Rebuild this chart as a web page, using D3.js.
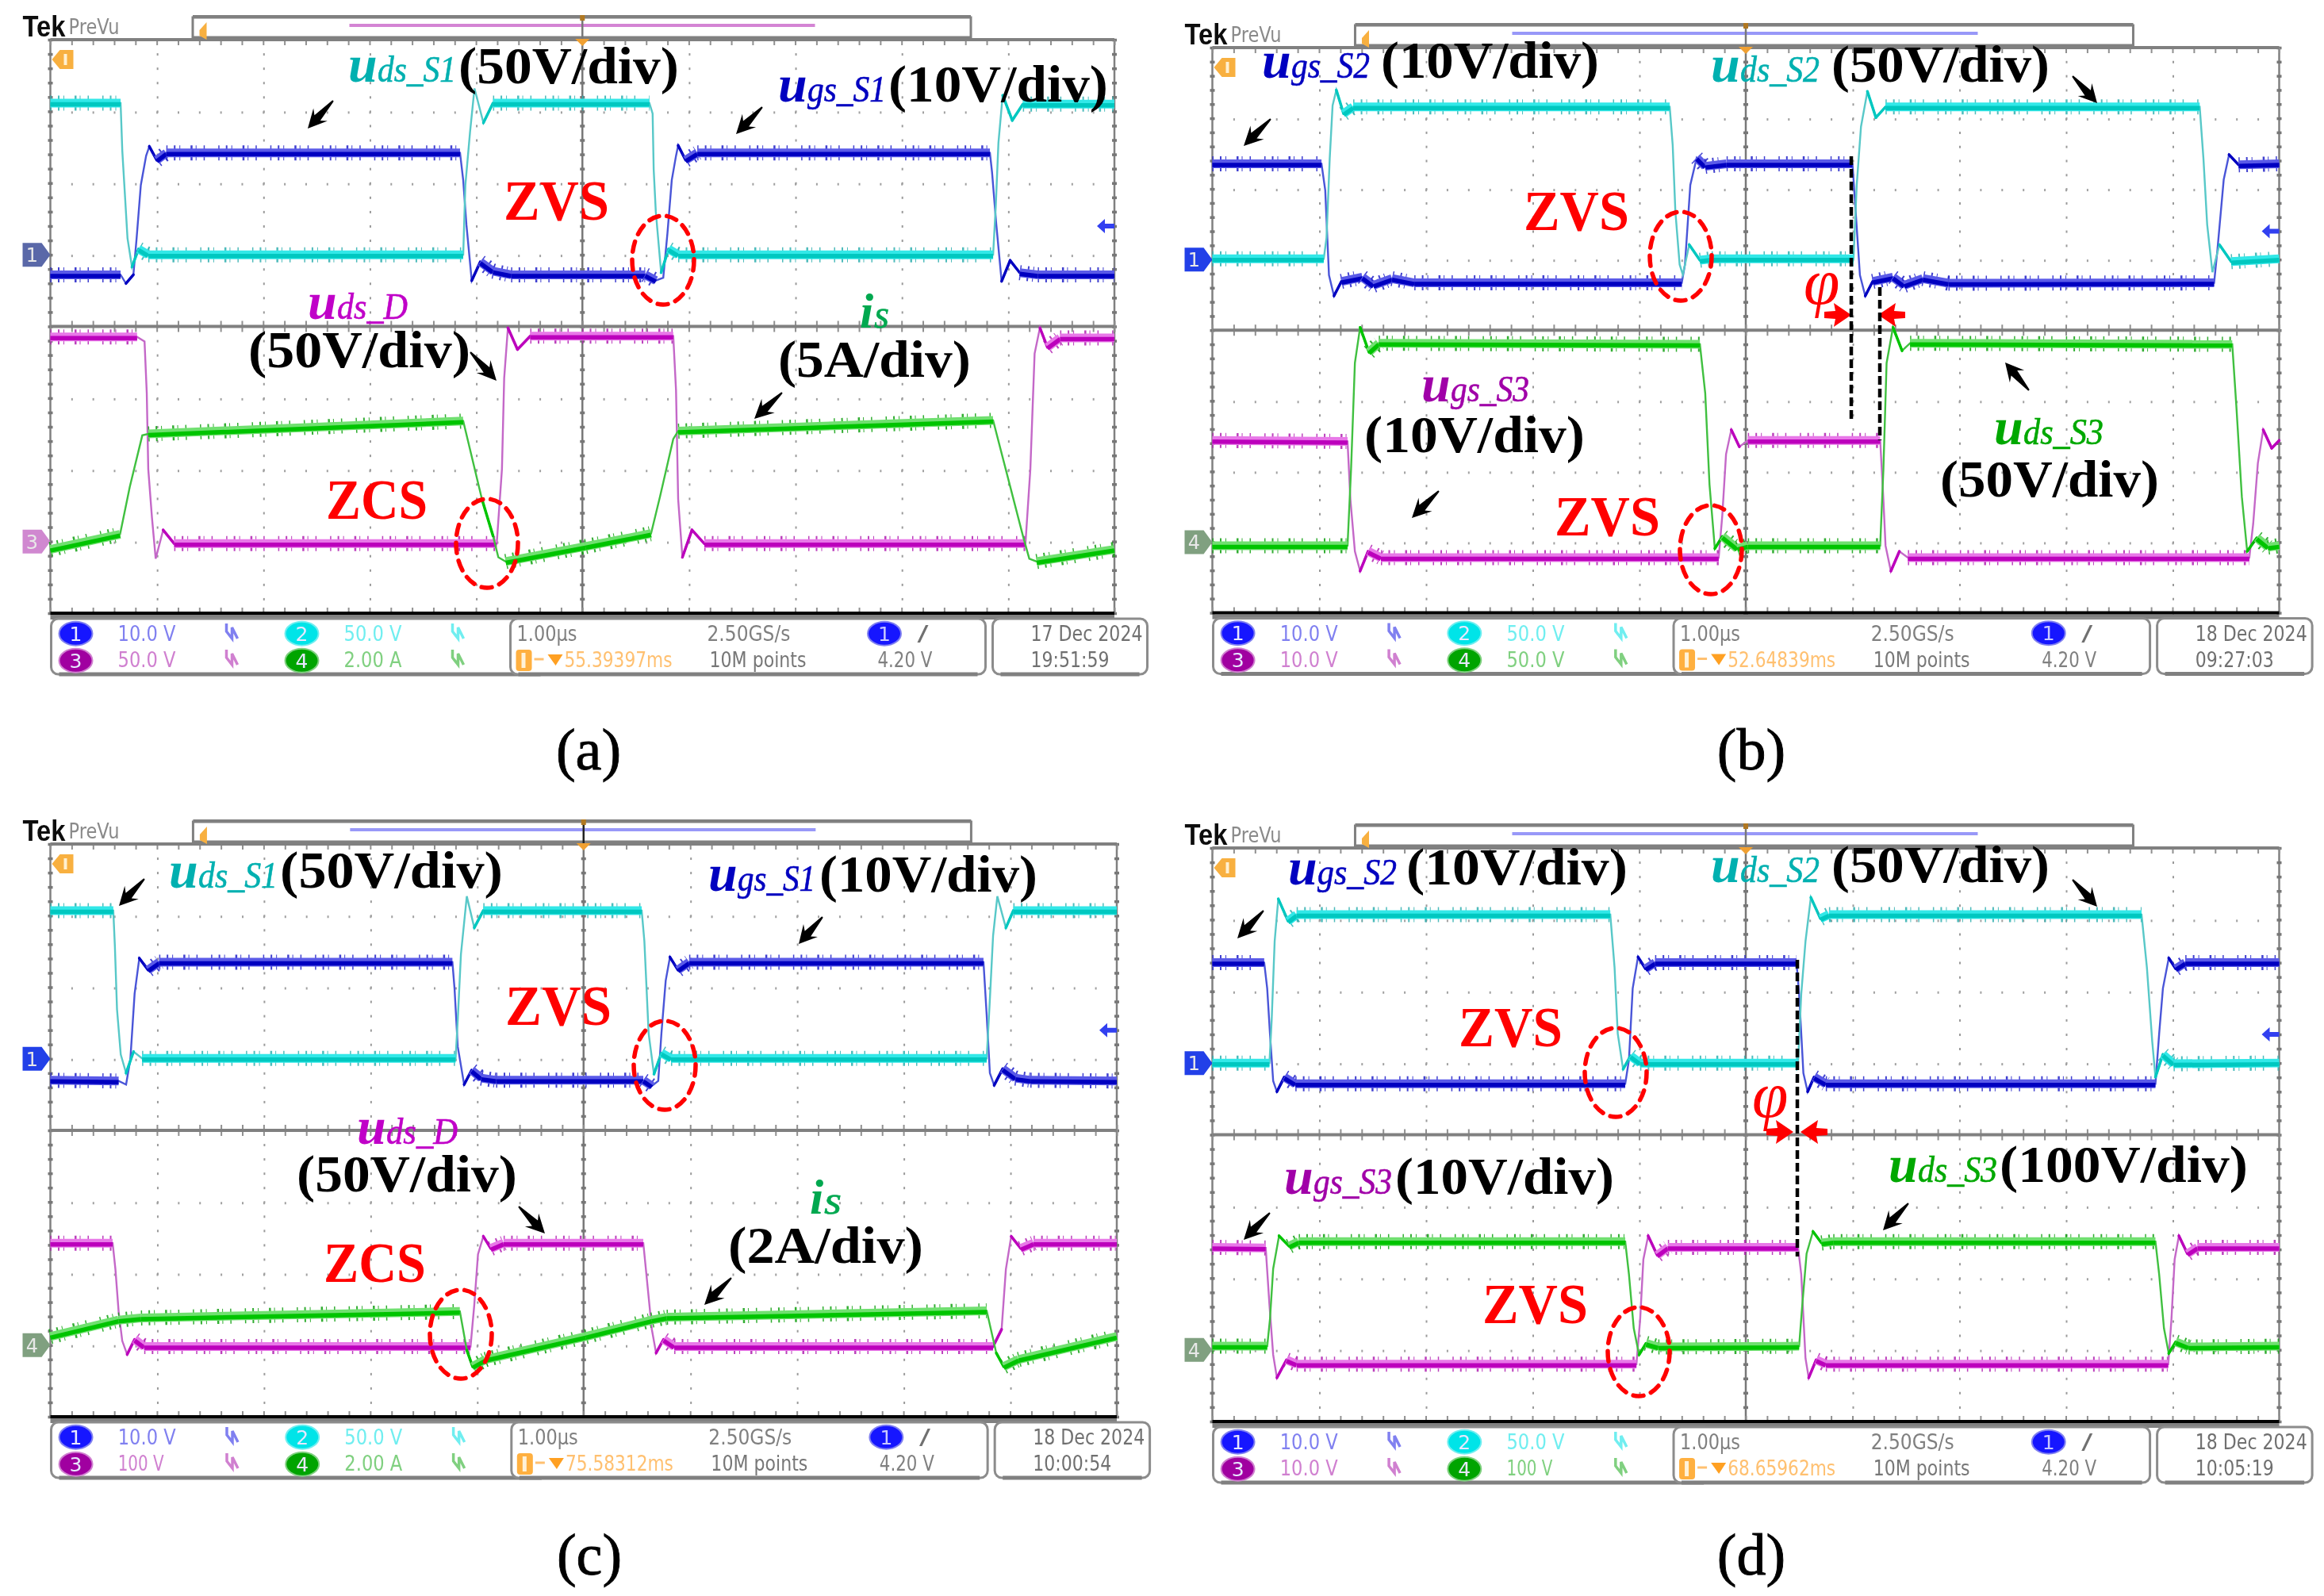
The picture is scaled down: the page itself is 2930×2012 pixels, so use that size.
<!DOCTYPE html>
<html><head><meta charset="utf-8">
<style>html,body{margin:0;padding:0;background:#fff}svg{display:block}</style>
<script src="https://cdnjs.cloudflare.com/ajax/libs/d3/7.8.5/d3.min.js"></script>
</head><body><div id="chart"></div>
<script>
// ---- waveform data: [time in divisions, level in divisions from the top of the screen]
const aUgsS1=[[0,3.28],[.66,3.28],[.71,3.4],[.78,3.28],[.81,2.78],[.85,2.03],[.9,1.62],[.93,1.49],[1,1.68],[1.09,1.58],[3.85,1.58],[3.88,1.96],[3.91,2.58],[3.96,3.36],[4.04,3.1],[4.16,3.23],[4.33,3.28],[5.59,3.28],[5.69,3.36],[5.76,3.32],[5.8,2.69],[5.84,1.96],[5.88,1.62],[5.9,1.476],[5.97,1.68],[6.08,1.58],[8.83,1.58],[8.85,1.85],[8.89,2.58],[8.94,3.37],[9.02,3.08],[9.11,3.25],[9.28,3.28],[10,3.28]];
const aUdsS1=[[0,.886],[.66,.886],[.676,1.55],[.725,2.77],[.767,3.17],[.829,2.92],[.92,3],[3.88,3],[3.9,2.03],[3.944,1.29],[3.986,.68],[4.07,1.16],[4.16,.886],[5.63,.886],[5.66,1.03],[5.67,1.81],[5.69,2.4],[5.74,3.25],[5.81,2.92],[5.9,3],[8.86,3],[8.885,2.32],[8.91,1.44],[8.95,.775],[9.04,1.125],[9.14,.9],[10,.9]];
const aUdsD=[[0,4.147],[.815,4.147],[.885,4.21],[.906,4.93],[.92,5.99],[.955,6.67],[.99,7.24],[1.06,6.84],[1.164,7.03],[4.195,7.03],[4.244,5.99],[4.265,4.72],[4.3,4.02],[4.39,4.32],[4.51,4.135],[5.854,4.135],[5.88,4.89],[5.9,6.41],[5.94,7.22],[6.03,6.84],[6.146,7.03],[9.164,7.03],[9.21,5.99],[9.25,4.38],[9.3,4.02],[9.37,4.29],[9.49,4.16],[10,4.16]];
const aIs=[[0,7.11],[.655,6.9],[.746,6.24],[.864,5.52],[.92,5.5],[3.88,5.32],[4.056,6.41],[4.16,6.92],[4.21,7.22],[4.28,7.28],[5.03,7.07],[5.645,6.89],[5.73,6.37],[5.854,5.57],[5.9,5.46],[8.86,5.31],[9.14,6.92],[9.2,7.24],[9.27,7.28],[10,7.11]];

const bUgsS2=[[0,1.645],[1.023,1.645],[1.058,2.02],[1.093,3.22],[1.14,3.515],[1.21,3.31],[1.406,3.25],[1.51,3.365],[1.684,3.27],[1.893,3.33],[4.4,3.33],[4.43,3.07],[4.48,1.945],[4.54,1.56],[4.62,1.68],[4.82,1.645],[6,1.645],[6.03,2.32],[6.07,3.22],[6.12,3.515],[6.19,3.31],[6.38,3.25],[6.485,3.365],[6.66,3.27],[6.9,3.335],[9.39,3.33],[9.42,2.88],[9.48,1.87],[9.53,1.515],[9.62,1.66],[10,1.645]];
const bUdsS2=[[0,2.99],[1.044,2.99],[1.07,2.69],[1.1,1.57],[1.127,.82],[1.162,.6],[1.23,.935],[1.32,.84],[4.287,.84],[4.315,1.38],[4.34,2.32],[4.38,3.07],[4.41,3.215],[4.47,2.79],[4.57,3.01],[4.68,2.99],[6.01,2.99],[6.04,1.945],[6.08,1.12],[6.14,.62],[6.22,.99],[6.31,.84],[9.255,.84],[9.29,1.57],[9.325,2.505],[9.374,3.18],[9.44,2.79],[9.55,3.03],[10,2.99]];
const bUgsS3=[[0,5.56],[1.267,5.575],[1.294,6.4],[1.336,7.13],[1.385,7.41],[1.46,7.13],[1.58,7.22],[4.746,7.22],[4.78,6.62],[4.815,5.755],[4.864,5.41],[4.94,5.65],[5.02,5.56],[6.26,5.56],[6.29,6.4],[6.31,7.05],[6.36,7.41],[6.44,7.13],[6.52,7.22],[9.72,7.22],[9.756,6.745],[9.8,5.885],[9.85,5.41],[9.93,5.67],[10,5.56]];
const bUdsS3=[[0,7.05],[1.267,7.05],[1.3,5.97],[1.336,4.465],[1.385,3.96],[1.468,4.31],[1.56,4.185],[4.57,4.2],[4.62,4.895],[4.66,6.185],[4.71,7.09],[4.78,6.92],[4.92,7.09],[5.02,7.05],[6.26,7.05],[6.29,5.97],[6.32,4.465],[6.38,3.96],[6.465,4.29],[6.54,4.185],[9.56,4.2],[9.6,5.11],[9.65,6.36],[9.7,7.13],[9.79,6.94],[9.895,7.07],[10,7.05]];

const cUgsS1=[[0,3.3],[.64,3.31],[.71,3.36],[.75,3.01],[.79,2.09],[.834,1.595],[.917,1.76],[1.02,1.65],[3.77,1.65],[3.79,2.02],[3.82,2.83],[3.88,3.36],[3.95,3.16],[4.04,3.27],[4.18,3.3],[5.56,3.3],[5.64,3.38],[5.7,3.31],[5.73,2.645],[5.77,1.91],[5.81,1.58],[5.885,1.76],[5.99,1.65],[8.75,1.65],[8.78,2.39],[8.81,3.2],[8.85,3.37],[8.93,3.14],[9.05,3.27],[9.19,3.3],[10,3.31]];
const cUdsS1=[[0,.93],[.59,.93],[.605,1.43],[.625,2.31],[.66,2.94],[.71,3.2],[.78,2.9],[.86,2.995],[3.8,2.995],[3.82,2.46],[3.85,1.54],[3.905,.73],[3.975,1.17],[4.06,.93],[5.545,.93],[5.57,1.355],[5.61,2.645],[5.66,3.215],[5.73,2.92],[5.82,2.995],[8.78,2.995],[8.81,2.165],[8.84,1.28],[8.88,.73],[8.96,1.17],[9.03,.93],[10,.93]];
const cUdsD=[[0,5.575],[.584,5.575],[.61,5.94],[.64,6.53],[.674,6.94],[.72,7.13],[.79,6.92],[.88,7.02],[3.94,7.02],[3.975,6.44],[4.01,5.73],[4.06,5.48],[4.13,5.65],[4.25,5.575],[5.56,5.575],[5.59,6.025],[5.64,6.78],[5.68,7.11],[5.75,6.92],[5.85,7.02],[8.84,7.02],[8.92,6.78],[8.96,5.94],[9.01,5.48],[9.1,5.65],[9.22,5.575],[10,5.575]];
const cIs=[[0,6.88],[.64,6.65],[.85,6.62],[3.84,6.53],[3.905,7.07],[3.96,7.3],[4.08,7.2],[5.02,6.88],[5.64,6.65],[5.78,6.61],[8.78,6.52],[8.87,7.11],[8.94,7.3],[9.08,7.2],[10,6.88]];

const dUgsS2=[[0,1.6],[.486,1.6],[.514,1.96],[.54,2.59],[.57,3.25],[.605,3.4],[.674,3.196],[.778,3.29],[3.87,3.29],[3.905,2.956],[3.94,1.96],[3.99,1.52],[4.06,1.685],[4.15,1.6],[5.476,1.6],[5.5,2.035],[5.54,3.14],[5.58,3.4],[5.64,3.196],[5.75,3.29],[8.84,3.29],[8.875,2.59],[8.91,1.96],[8.965,1.535],[9.03,1.685],[9.12,1.6],[10,1.6]];
const dUdsS2=[[0,3],[.535,3],[.556,2.4],[.584,1.3],[.618,.71],[.71,1.02],[.79,.93],[3.73,.93],[3.77,1.666],[3.8,2.59],[3.85,3.085],[3.92,2.9],[4.01,3],[5.49,3],[5.52,2.035],[5.56,1.3],[5.61,.69],[5.7,.984],[5.78,.93],[8.71,.93],[8.76,1.666],[8.81,2.7],[8.84,3.196],[8.91,2.88],[9.01,3.01],[10,3]];
const dUgsS3=[[0,5.57],[.5,5.58],[.535,6.37],[.57,7.07],[.605,7.39],[.695,7.14],[.79,7.2],[3.975,7.2],[4.01,6.575],[4.04,5.74],[4.085,5.41],[4.17,5.68],[4.27,5.57],[5.49,5.57],[5.52,5.95],[5.56,7.12],[5.59,7.39],[5.66,7.14],[5.75,7.2],[8.96,7.2],[8.99,6.575],[9.02,5.74],[9.06,5.41],[9.14,5.66],[9.235,5.57],[10,5.57]];
const dUdsS3=[[0,6.95],[.514,6.95],[.54,6.575],[.57,5.87],[.625,5.41],[.72,5.555],[.81,5.49],[3.87,5.49],[3.905,5.95],[3.95,6.7],[4,7.07],[4.065,6.91],[4.18,6.96],[5.5,6.95],[5.53,6.37],[5.57,5.66],[5.63,5.35],[5.71,5.51],[5.82,5.49],[8.84,5.49],[8.875,5.95],[8.92,6.7],[8.965,7.05],[9.03,6.89],[9.15,6.96],[10,6.95]];

// ---- readout text
const chLabels=[["10.0 V","50.0 V","50.0 V","2.00 A"],["10.0 V","50.0 V","10.0 V","50.0 V"],["10.0 V","50.0 V","100 V","2.00 A"],["10.0 V","50.0 V","10.0 V","100 V"]];
const delays=["55.39397ms","52.64839ms","75.58312ms","68.65962ms"];
const dates=["17 Dec  2024","18 Dec  2024","18 Dec  2024","18 Dec  2024"];
const clocks=["19:51:59","09:27:03","10:00:54","10:05:19"];
const captions=["(a)","(b)","(c)","(d)"];

// ---- styles per channel
const CH={
 blue:{thin:"#4a55d8",core:"#0000c0",halo:"#5a5ae8",comb:"#2020c8"},
 cyan:{thin:"#58c8c8",core:"#00c8c0",halo:"#30e8e8",comb:"#30b0b0"},
 mag:{thin:"#c468c8",core:"#bc00bc",halo:"#e878e8",comb:"#b020b0"},
 green:{thin:"#40c040",core:"#00c400",halo:"#70e070",comb:"#10a010"}
};
// ---- layout of the four screens
const panels=[
 {l:63.5,r:1405,t:50,b:773,cap:[742,970],strip:"#d484d4",low:"#d088d0",up:"#5a68a8",traces:[[aUgsS1,"blue"],[aUdsS1,"cyan"],[aUdsD,"mag"],[aIs,"green"]]},
 {l:1528.5,r:2873.5,t:60,b:772.5,cap:[2208,970],strip:"#9898f8",low:"#80a080",up:"#2040e8",traces:[[bUgsS2,"blue"],[bUdsS2,"cyan"],[bUgsS3,"mag"],[bUdsS3,"green"]]},
 {l:63.5,r:1408,t:1064,b:1786,cap:[743,1985],strip:"#9898f8",low:"#80a080",up:"#2040e8",traces:[[cUgsS1,"blue"],[cUdsS1,"cyan"],[cUdsD,"mag"],[cIs,"green"]]},
 {l:1528.5,r:2873.5,t:1069,b:1792,cap:[2208,1985],strip:"#9898f8",low:"#80a080",up:"#2040e8",traces:[[dUgsS2,"blue"],[dUdsS2,"cyan"],[dUgsS3,"mag"],[dUdsS3,"green"]]}
];
// annotation tables, in page pixels: [text, x0, x1, baseline]
const blackLabels=[["(50V/div)",578,856,105],["(10V/div)",1120,1397,128],["(50V/div)",313,593,463],["(5A/div)",981,1224,475],
 ["(10V/div)",1741,2016,98],["(50V/div)",2309,2584,103],["(10V/div)",1720,1998,570],["(50V/div)",2446,2722,626],
 ["(50V/div)",353,634,1119],["(10V/div)",1033,1308,1124],["(50V/div)",374,652,1502],["(2A/div)",918,1164,1592],
 ["(10V/div)",1773,2052,1115],["(50V/div)",2309,2584,1112],["(10V/div)",1759,2035,1505],["(100V/div)",2521,2834,1490]];
const redLabels=[["ZVS",635,768,277],["ZCS",411,539,654],["ZVS",1921,2054,290],["ZVS",1960,2093,675],
 ["ZVS",637,771,1292],["ZCS",408,537,1616],["ZVS",1839,1970,1319],["ZVS",1869,2002,1668]];
const TEAL="#00b0b0",NAVY="#0000c0",PURP="#a000a8",MAG="#c000c8",GRN="#00a800",ISG="#00a850";
const signalLabels=[["u","ds_S1",439,575,103,TEAL],["u","gs_S1",981,1117,128,NAVY],["u","ds_D",388,514,402,MAG],["i","s",1084,1121,413,ISG],
 ["u","gs_S2",1591,1727,98,NAVY],["u","ds_S2",2157,2294,103,TEAL],["u","gs_S3",1792,1928,506,PURP],["u","ds_S3",2514,2652,560,GRN],
 ["u","ds_S1",213,350,1119,TEAL],["u","gs_S1",893,1028,1123,NAVY],["u","ds_D",450,577,1442,MAG],["i","s",1021,1061,1530,ISG],
 ["u","gs_S2",1624,1761,1115,NAVY],["u","ds_S2",2157,2294,1112,TEAL],["u","gs_S3",1619,1755,1505,PURP],["u","ds_S3",2381,2518,1490,GRN]];
const ringEllipses=[[836,328],[614,685],[2119,323],[2157,693],[838,1343],[581,1682],[2037,1352],[2066,1704]];
const blackArrows=[[420,127,388,162],[961,135,928,169],[593,444,626,480],[986,495,951,528],
 [1602,150,1568,184],[2613,96,2644,130],[2558,492,2528,457],[1814,619,1780,653],
 [182,1108,150,1142],[1037,1156,1007,1190],[654,1521,687,1555],[922,1611,888,1645],
 [1593,1148,1560,1183],[2613,1109,2644,1143],[1601,1529,1568,1563],[2406,1517,2374,1551]];
const redArrows=[[2300,397,2334,397],[2402,397,2369,397],[2227,1427,2261,1427],[2304,1427,2271,1427]];
const dashedLines=[[2334,197,528],[2370,362,555],[2266,1210,1584]];
const phis=[[2274,383],[2209,1408]];

// ---- drawing
const svg=d3.select("#chart").append("svg").attr("width",2930).attr("height",2012).attr("viewBox","0 0 2930 2012");
svg.append("rect").attr("width",2930).attr("height",2012).attr("fill","#fff");
const f=svg.append("defs").append("filter").attr("id","soft").attr("filterUnits","userSpaceOnUse")
 .attr("x",0).attr("y",0).attr("width",2930).attr("height",2012);
f.append("feGaussianBlur").attr("stdDeviation",0.75);
const root=svg.append("g").attr("filter","url(#soft)");
const SERIF="'Liberation Serif','Times New Roman',serif",SANS="'DejaVu Sans',sans-serif";

// squeeze or stretch a text to an exact width with a transform, so its real box matches what is drawn
function fitW(sel,x,y,w){
 const n=sel.node().getComputedTextLength()||w;
 return sel.attr("transform",`translate(${x},${y}) scale(${w/n},1)`);
}
function noLabels(ax,size){return ax.tickFormat("").tickSizeOuter(0).tickSize(size);}
function cleanAxis(g,color,w){g.select(".domain").remove();g.selectAll("line").attr("stroke",color).attr("stroke-width",w);}

panels.forEach((p,i)=>{
 const g=root.append("g");
 const x=d3.scaleLinear().domain([0,10]).range([p.l,p.r]);
 const y=d3.scaleLinear().domain([0,8]).range([p.t,p.b]);
 const W=p.r-p.l, sx=d=>p.l+d*W/1341.5;
 const fifths=d3.range(0,10.01,.2), fifthsY=d3.range(0,8.01,.2);
 // dotted graticule
 const gx=[1,2,3,4,6,7,8,9], gy=[1,2,3,5,6,7];
 gx.forEach(t=>g.append("g").attr("transform",`translate(${x(t)},0)`)
   .call(noLabels(d3.axisRight(y).tickValues(fifthsY),2)).call(s=>cleanAxis(s,"#9a9a9a",3)));
 gy.forEach(v=>g.append("g").attr("transform",`translate(0,${y(v)})`)
   .call(noLabels(d3.axisBottom(x).tickValues(fifths),3)).call(s=>cleanAxis(s,"#a0a0a0",2)));
 // frame
 g.append("line").attr("x1",p.l).attr("x2",p.l).attr("y1",p.t).attr("y2",p.b).attr("stroke","#808080").attr("stroke-width",2.5);
 g.append("line").attr("x1",p.r).attr("x2",p.r).attr("y1",p.t).attr("y2",p.b).attr("stroke","#808080").attr("stroke-width",2.5);
 g.append("line").attr("x1",x(5)).attr("x2",x(5)).attr("y1",p.t).attr("y2",p.b).attr("stroke","#787878").attr("stroke-width",2.5);
 // edge and centre tick marks
 [0,5,10].forEach(t=>g.append("g").attr("transform",`translate(${x(t)-3},0)`)
   .call(noLabels(d3.axisRight(y).tickValues(fifthsY),6)).call(s=>cleanAxis(s,"#777",3.5)));
 [0,4,8].forEach(v=>{
   g.append("g").attr("transform",`translate(0,${y(v)-(v===8?6:0)})`)
    .call(noLabels(d3.axisBottom(x).tickValues(fifths),v===8?0:7)).call(s=>cleanAxis(s,"#909090",2));
   if(v===4) g.append("g").attr("transform",`translate(0,${y(v)})`)
    .call(noLabels(d3.axisTop(x).tickValues(fifths),7)).call(s=>cleanAxis(s,"#909090",2));
   if(v===8) g.append("g").attr("transform",`translate(0,${y(v)})`)
    .call(noLabels(d3.axisTop(x).tickValues(fifths),7)).call(s=>cleanAxis(s,"#909090",2));
 });
 g.append("line").attr("x1",p.l).attr("x2",p.r).attr("y1",p.t).attr("y2",p.t).attr("stroke","#808080").attr("stroke-width",4);
 g.append("line").attr("x1",p.l).attr("x2",p.r).attr("y1",y(4)).attr("y2",y(4)).attr("stroke","#808080").attr("stroke-width",4);
 g.append("line").attr("x1",p.l).attr("x2",p.r).attr("y1",p.b+5).attr("y2",p.b+5).attr("stroke","#808080").attr("stroke-width",6);
 g.append("line").attr("x1",p.l).attr("x2",p.r).attr("y1",p.b).attr("y2",p.b).attr("stroke","#000").attr("stroke-width",4);

 // top record bar
 const bar=g.append("g");
 bar.append("rect").attr("x",sx(179.5)).attr("y",p.t-28).attr("width",981).attr("height",25).attr("fill","#fff").attr("stroke","#808080").attr("stroke-width",3);
 bar.append("rect").attr("x",sx(179.5)).attr("y",p.t-31).attr("width",981).attr("height",4).attr("fill","#808080");
 bar.append("rect").attr("x",sx(377)).attr("y",p.t-20).attr("width",587).attr("height",4).attr("fill",p.strip);
 bar.append("path").attr("d",`M${sx(188)},${p.t-12}l9,-10v22l-9,-5z`).attr("fill","#f8b040");
 bar.append("line").attr("x1",x(5)).attr("x2",x(5)).attr("y1",p.t-30).attr("y2",p.t).attr("stroke",i===2?"#202020":"#787878").attr("stroke-width",2.5);
 bar.append("rect").attr("x",x(5)-3).attr("y",p.t-31).attr("width",6).attr("height",7).attr("fill","#b07820");
 bar.append("path").attr("d",`M${x(5)-9},${p.t-1}h18l-9,9z`).attr("fill","#f0a030");
 fitW(g.append("text").text("Tek").attr("font-family","'Liberation Sans',sans-serif").attr("font-weight","bold").attr("font-size",37).attr("fill","#111"),sx(-35),p.t-4,54);
 fitW(g.append("text").text("PreVu").attr("font-family",SANS).attr("font-size",27).attr("fill","#8a8a8a"),sx(23),p.t-7,64);
 // markers
 g.append("path").attr("d",`M${p.l+29},${p.t+13}h-17l-10,12l10,12h17z`).attr("fill","#f8b040");
 g.append("rect").attr("x",p.l+17).attr("y",p.t+18).attr("width",4).attr("height",14).attr("fill","#fff0d0");
 [[3,p.up,"1"],[7,p.low,i===0?"3":"4"]].forEach(([v,c,t])=>{
   const yy=y(v);
   g.append("path").attr("d",`M${p.l-35},${yy-15}h24l11,15l-11,15h-24z`).attr("fill",c);
   g.append("text").text(t).attr("x",p.l-23).attr("y",yy+9).attr("text-anchor","middle").attr("font-family",SANS).attr("font-size",24).attr("fill","#e8e8e8");
 });
 const ay=y(2.6);
 g.append("path").attr("d",`M${p.r-22},${ay}l10,-9v6h12v6h-12v6z`).attr("fill","#3040f0");

 // traces
 const line=d3.line().x(d=>x(d[0])).y(d=>y(d[1]));
 p.traces.forEach(([vals,key])=>{
   const c=CH[key], tg=g.append("g").attr("fill","none");
   tg.append("path").attr("d",line(vals)).attr("stroke",c.thin).attr("stroke-width",2.4);
   const slope=([a,b])=>Math.abs(b[1]-a[1])/(b[0]-a[0]);
   const ring=d3.pairs(vals).filter(q=>(q[1][0]-q[0][0])>=0.05 && slope(q)>=1.5 && slope(q)<5);
   tg.selectAll("path.ring").data(ring).join("path").attr("class","ring").attr("d",line).attr("stroke",c.core).attr("stroke-width",3.5).attr("stroke-linecap","round");
   const flat=d3.pairs(vals).filter(q=>(q[1][0]-q[0][0])>=0.08 && slope(q)<1.5);
   const seg=tg.selectAll("g").data(flat).join("g");
   seg.append("path").attr("d",line).attr("stroke",c.comb).attr("stroke-width",19).attr("stroke-dasharray","1.5 8 2 5 1 13 2.5 4 1 9 1.5 17").attr("opacity",.85);
   seg.append("path").attr("d",line).attr("stroke",c.halo).attr("stroke-width",11);
   seg.append("path").attr("d",line).attr("stroke",c.core).attr("stroke-width",5.5).attr("transform","translate(0,1.5)");
 });

 // readout boxes
 const top=p.b+7, rd=g.append("g");
 [[5,632],[584,1183],[1192,1387]].forEach(([a,b])=>{
   rd.append("rect").attr("x",sx(a)-4).attr("y",top).attr("width",sx(b)-sx(a)).attr("height",70).attr("rx",9).attr("fill","#fff").attr("stroke","#8c8c8c").attr("stroke-width",3);
   rd.append("line").attr("x1",sx(a)+6).attr("x2",sx(b)-14).attr("y1",top+70).attr("y2",top+70).attr("stroke","#808080").attr("stroke-width",5);
 });
 const fit=(t,a,b,yy,fill,size=26)=>fitW(rd.append("text").text(t).attr("font-family",SANS).attr("font-size",size).attr("fill",fill),sx(a),yy,b-a);
 const y1=top+28,y2=top+61,c1=top+18.7,c2=top+52.7;
 const chan=[[32,c1,"#1818ff","1","#8080f0",85,y1],[317,c1,"#00e4e8","2","#70eef0",370,y1],[32,c2,"#a000a0","3","#d080d0",85,y2],[317,c2,"#00a400","4","#80d080",370,y2]];
 chan.forEach(([cx,cy,col,n,light,tx,ty],k)=>{
   rd.append("ellipse").attr("cx",sx(cx)).attr("cy",cy).attr("rx",21).attr("ry",15).attr("fill",col).attr("stroke",light).attr("stroke-width",2);
   rd.append("text").text(n).attr("x",sx(cx)).attr("y",cy+9).attr("text-anchor","middle").attr("font-family",SANS).attr("font-size",25).attr("fill","#e8e8ff");
   const lab=chLabels[i][k];
   fit(lab,tx,tx+(lab.length<6?58:73),ty,light);
   rd.append("path").attr("d",`M${sx(tx+137)},${ty-22}v10l7,9l0,-14l7,14`).attr("fill","none").attr("stroke",light).attr("stroke-width",3.5);
 });
 fit("1.00µs",588,664,y1,"#808080");
 fit("2.50GS/s",828,933,y1,"#808080");
 fit("10M points",831,953,y2,"#777");
 fit(delays[i],648,784,y2,"#ffc070");
 rd.append("rect").attr("x",sx(587)).attr("y",y2-22).attr("width",20).attr("height",27).attr("rx",4).attr("fill","#ffb040");
 rd.append("rect").attr("x",sx(594)).attr("y",y2-18).attr("width",5).attr("height",19).attr("fill","#fff2d8");
 rd.append("path").attr("d",`M${sx(610)},${y2-10}h12`).attr("stroke","#ffc070").attr("stroke-width",3);
 rd.append("path").attr("d",`M${sx(627)},${y2-16}h19l-9,14z`).attr("fill","#ffa020");
 rd.append("ellipse").attr("cx",sx(1051.5)).attr("cy",c1).attr("rx",21).attr("ry",15).attr("fill","#1818ff").attr("stroke","#8080f0").attr("stroke-width",2);
 rd.append("text").text("1").attr("x",sx(1051.5)).attr("y",c1+9).attr("text-anchor","middle").attr("font-family",SANS).attr("font-size",25).attr("fill","#c8c8ff");
 fit("/",1093,1107,y1,"#707070");
 fit("4.20 V",1043,1112,y2,"#808080");
 fit(dates[i],1236,1377,y1,"#707070");
 fit(clocks[i],1236,1335,y2,"#707070");

 root.append("text").text(captions[i]).attr("x",p.cap[0]).attr("y",p.cap[1]).attr("text-anchor","middle")
  .attr("font-family",SERIF).attr("font-size",74).attr("fill","#000").attr("stroke","#000").attr("stroke-width",.9);
});

// annotations
const ann=root.append("g");
blackLabels.forEach(([t,a,b,yy])=>fitW(ann.append("text").text(t).attr("font-family",SERIF).attr("font-weight","bold").attr("font-size",66).attr("fill","#000"),a,yy,b-a));
redLabels.forEach(([t,a,b,yy])=>fitW(ann.append("text").text(t).attr("font-family",SERIF).attr("font-weight","bold").attr("font-size",72).attr("fill","#ff0000"),a,yy,b-a));
signalLabels.forEach(([m,s,x0,x1,b,c])=>{
 const small=s.length<3, w=m==="i"?18:37;
 ann.append("text").text(m).attr("x",x0).attr("y",b).attr("font-family",SERIF).attr("font-style","italic").attr("font-weight","bold")
  .attr("font-size",m==="i"?62:66).attr("fill",c);
 fitW(ann.append("text").text(s).attr("font-family",SERIF).attr("font-style","italic").attr("font-size",small?50:46)
  .attr("fill",c).attr("stroke",c).attr("stroke-width",.6),x0+w,b,x1-x0-w);
});
ann.selectAll("ellipse").data(ringEllipses).join("ellipse").attr("cx",d=>d[0]).attr("cy",d=>d[1]).attr("rx",39).attr("ry",56)
 .attr("fill","none").attr("stroke","#ff0000").attr("stroke-width",5.5).attr("stroke-dasharray","13 10").attr("stroke-linecap","round");
const arrowShape=(L,tw,hw,neck,barb)=>[[0,-tw*.2],[L*neck,-tw],[L*barb,-hw],[L,0],[L*barb,hw],[L*neck,tw],[0,tw*.2]];
const poly=d3.line().curve(d3.curveLinearClosed);
ann.selectAll("path.ba").data(blackArrows).join("path").attr("class","ba")
 .attr("transform",d=>`translate(${d[0]},${d[1]}) rotate(${Math.atan2(d[3]-d[1],d[2]-d[0])*180/Math.PI})`)
 .attr("d",d=>poly(arrowShape(Math.hypot(d[2]-d[0],d[3]-d[1]),5,12,.62,.5))).attr("fill","#000");
ann.selectAll("path.ra").data(redArrows).join("path").attr("class","ra")
 .attr("transform",d=>`translate(${d[0]},${d[1]}) rotate(${d[2]>d[0]?0:180})`)
 .attr("d",d=>poly([[0,-4],[14,-5],[12,-15],[34,0],[12,15],[14,5],[0,4]])).attr("fill","#ff0000");
ann.selectAll("line.dl").data(dashedLines).join("line").attr("class","dl").attr("x1",d=>d[0]).attr("x2",d=>d[0]).attr("y1",d=>d[1]).attr("y2",d=>d[2])
 .attr("stroke","#000").attr("stroke-width",4.5).attr("stroke-dasharray","11 5");
ann.selectAll("text.ph").data(phis).join("text").attr("class","ph").text("φ").attr("x",d=>d[0]).attr("y",d=>d[1])
 .attr("font-family",SERIF).attr("font-style","italic").attr("font-size",82).attr("fill","#ff0000");
</script></body></html>
